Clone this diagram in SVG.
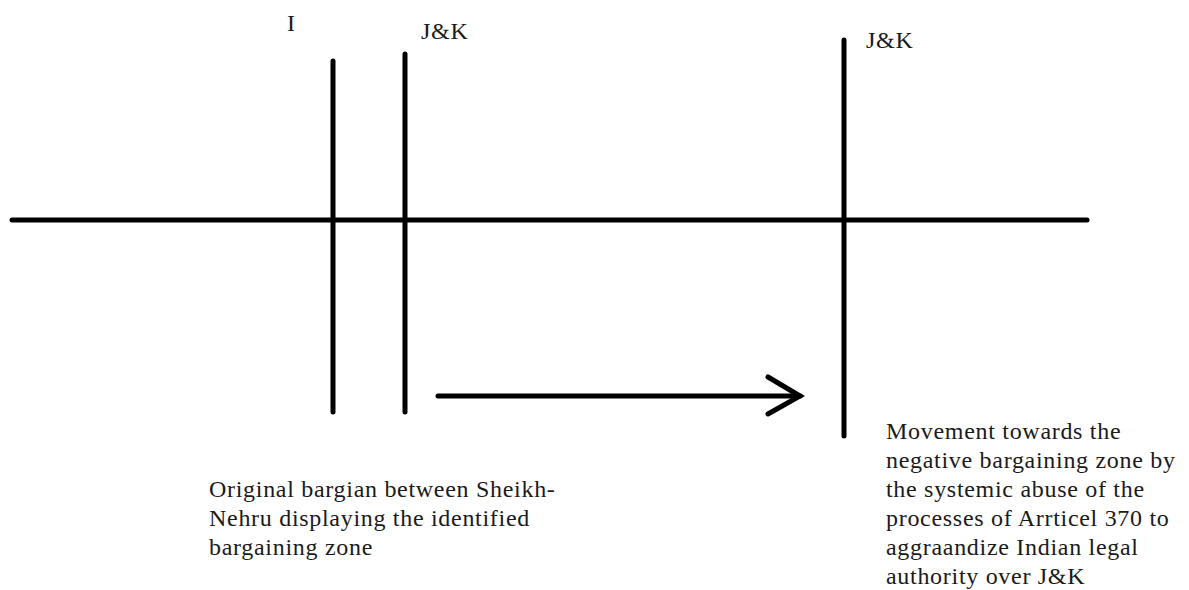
<svg xmlns="http://www.w3.org/2000/svg" width="1189" height="590" viewBox="0 0 1189 590">
  <style>
    .ln { stroke: #000; stroke-width: 5; stroke-linecap: round; fill: none; }
    .lbl { font-family: "Liberation Serif", "Times New Roman", serif; font-size: 24px; letter-spacing: 0.7px; fill: #1a1a1a; }
  </style>
  <rect width="1189" height="590" fill="#fff"/>
  <g id="connectors">
    <!-- main axis -->
    <line class="ln" x1="12" y1="220" x2="1087" y2="220"/>
    <!-- movement arrow -->
    <line class="ln" x1="438" y1="396" x2="800" y2="396"/>
    <polyline class="ln" points="768,377 800,396 768,414"/>
  </g>
  <g id="bar-I">
    <line class="ln" x1="333" y1="61" x2="333" y2="412"/>
    <text class="lbl" x="287" y="31">I</text>
  </g>
  <g id="bar-JK-original">
    <line class="ln" x1="405" y1="54" x2="405" y2="412"/>
    <text class="lbl" x="421" y="39">J&amp;K</text>
  </g>
  <g id="bar-JK-shifted">
    <line class="ln" x1="844" y1="40" x2="844" y2="436"/>
    <text class="lbl" x="866" y="48">J&amp;K</text>
  </g>
  <g id="note-original">
    <text class="lbl" x="209" y="497">Original bargian between Sheikh-</text>
    <text class="lbl" x="209" y="526">Nehru displaying the identified</text>
    <text class="lbl" x="209" y="555">bargaining zone</text>
  </g>
  <g id="note-movement">
    <text class="lbl" x="886" y="439">Movement towards the</text>
    <text class="lbl" x="886" y="468">negative bargaining zone by</text>
    <text class="lbl" x="886" y="497">the systemic abuse of the</text>
    <text class="lbl" x="886" y="526">processes of Arrticel 370 to</text>
    <text class="lbl" x="886" y="555">aggraandize Indian legal</text>
    <text class="lbl" x="886" y="584">authority over J&amp;K</text>
  </g>
</svg>
